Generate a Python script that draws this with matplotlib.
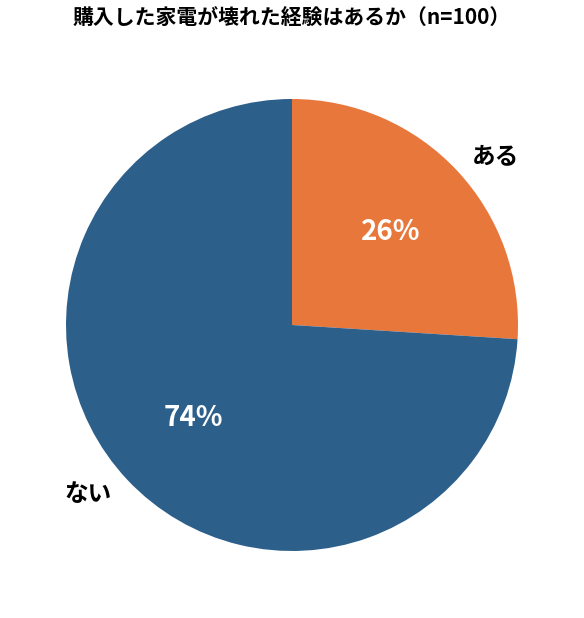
import matplotlib.pyplot as plt
import numpy as np

plt.rcParams['font.family'] = ['Noto Sans CJK JP', 'DejaVu Sans']

labels = ['ある', 'ない']
values = [26, 74]
colors = ['#e8773b', '#2d5f8b']
title = '購入した家電が壊れた経験はあるか（n=100）'

fig = plt.figure(figsize=(5.84, 6.18), dpi=100)
# pie radius ~226 px, centre at (292, 325) from top-left
half = 282.5
ax = fig.add_axes([(292 - half) / 584, (293 - half) / 618, 2 * half / 584, 2 * half / 618])

wedges, texts, autotexts = ax.pie(values, labels=labels, colors=colors,
                                  startangle=90, counterclock=False,
                                  autopct='%d%%', pctdistance=0.6,
                                  labeldistance=1.17,
                                  textprops={'fontsize': 17, 'fontweight': 'bold'})
for t in autotexts:
    t.set_color('white')
    t.set_fontsize(20)

# outer labels sit centred, a touch clockwise of the wedge middle
for t, w in zip(texts, wedges):
    ang = np.deg2rad((w.theta1 + w.theta2) / 2 - 3.5)
    t.set_position((1.17 * np.cos(ang), 1.17 * np.sin(ang)))
    t.set_ha('center')
    t.set_va('center')
ax.set_aspect('equal')

fig.text(0.5, 1 - 18 / 618, title, ha='center', va='center',
         fontsize=15, fontweight='bold')

fig.savefig('out.png', dpi=100)
